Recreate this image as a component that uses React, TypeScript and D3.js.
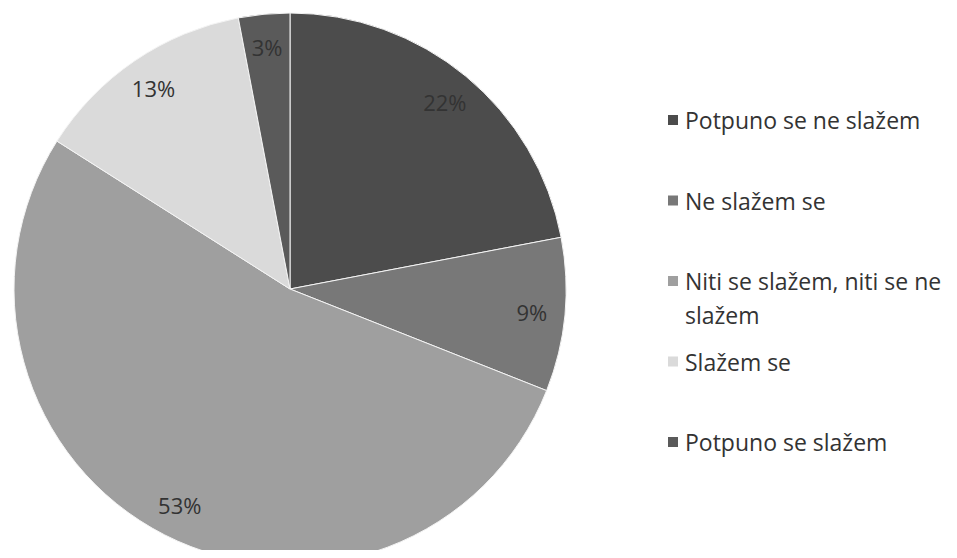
import React, { useEffect, useRef } from 'react';
import * as d3 from 'd3';

const categories = [
  'Potpuno se ne slažem',
  'Ne slažem se',
  'Niti se slažem, niti se ne slažem',
  'Slažem se',
  'Potpuno se slažem',
];
const shares = [22, 9, 53, 13, 3];
const fills = ['#4c4c4c', '#787878', '#9f9f9f', '#dadada', '#5a5a5a'];
// legend text split into lines the way the reference wraps it
const legendLines = [
  ['Potpuno se ne slažem'],
  ['Ne slažem se'],
  ['Niti se slažem, niti se ne', 'slažem'],
  ['Slažem se'],
  ['Potpuno se slažem'],
];

const App: React.FC = () => {
  const svgRef = useRef<SVGSVGElement | null>(null);

  useEffect(() => {
    if (!svgRef.current) return;
    const svg = d3.select(svgRef.current);
    svg.selectAll('*').remove();

    const width = 957;
    const height = 558;
    const cx = 290;
    const cy = 289;
    const radius = 276;

    svg.attr('width', width).attr('height', height);

    const pie = d3.pie<number>().sort(null).value(d => d);
    const arcs = pie(shares);
    const arc = d3.arc<d3.PieArcDatum<number>>().innerRadius(0).outerRadius(radius);
    const labelArc = d3.arc<d3.PieArcDatum<number>>()
      .innerRadius(radius * 0.88)
      .outerRadius(radius * 0.88);

    const g = svg.append('g').attr('transform', `translate(${cx},${cy})`);

    g.selectAll('path')
      .data(arcs)
      .enter()
      .append('path')
      .attr('d', arc)
      .style('fill', (_, i) => fills[i])
      .style('stroke', '#f4f4f4')
      .style('stroke-width', 1);

    g.selectAll('text')
      .data(arcs)
      .enter()
      .append('text')
      .attr('transform', d => `translate(${labelArc.centroid(d)})`)
      .attr('text-anchor', 'middle')
      .attr('dominant-baseline', 'central')
      .style('font-family', '"Open Sans", sans-serif')
      .style('font-size', '22px')
      .style('fill', '#333')
      .text(d => `${d.data}%`);

    // legend
    const rowY = d3.scalePoint<string>()
      .domain(categories)
      .range([120, 442]);
    const lineH = 34;

    const legend = svg.append('g').attr('class', 'legend');
    categories.forEach((c, i) => {
      const y = rowY(c) || 0;
      const item = legend.append('g');
      item.append('rect')
        .attr('x', 668)
        .attr('y', y - 5)
        .attr('width', 10)
        .attr('height', 10)
        .style('fill', fills[i]);
      const t = item.append('text')
        .attr('x', 685)
        .attr('y', y)
        .attr('dominant-baseline', 'central')
        .style('font-family', '"Open Sans", sans-serif')
        .style('font-size', '23px')
        .style('fill', '#333');
      legendLines[i].forEach((line, j) => {
        t.append('tspan')
          .attr('x', 685)
          .attr('y', y + j * lineH)
          .text(line);
      });
    });
  }, []);

  return (
    <div style={{ width: 957, height: 558, margin: -8 }}>
      <svg ref={svgRef} />
    </div>
  );
};

export default App;
